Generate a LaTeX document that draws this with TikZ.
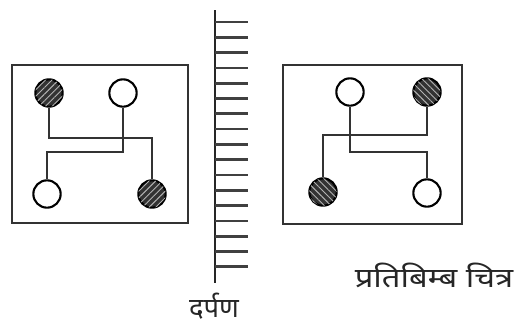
\documentclass[tikz,border=0pt]{standalone}
\usepackage{fontspec}
\newfontfamily\deva[Script=Devanagari]{Noto Sans}
\usetikzlibrary{patterns.meta}
\begin{document}
\begin{tikzpicture}[x=0.75pt,y=-0.75pt,
  board/.style={draw=black!80,line width=2.1pt},
  wire/.style={draw=black!80,line width=1.6pt},
  hole/.style={circle,draw=black,line width=1.6pt,minimum size=20.5pt,inner sep=0pt,fill=white},
  dotne/.style={hole,fill=black!80,postaction={pattern={Lines[angle=45,distance=3.5pt,line width=0.7pt]},pattern color=gray!60}},
  dotnw/.style={hole,fill=black!80,postaction={pattern={Lines[angle=-45,distance=3.5pt,line width=0.7pt]},pattern color=gray!60}},
  lbl/.style={font=\deva\fontsize{20.5}{24}\selectfont,inner sep=0pt,text=black!85}]
\useasboundingbox (0,0) rectangle (520,330);
% left board
\draw[board] (12,65) rectangle (188,223);
\node[dotne] (ltl) at (49,93) {};
\node[hole]  (ltr) at (123,93) {};
\node[hole]  (lbl) at (47,194) {};
\node[dotne] (lbr) at (152,194) {};
\coordinate (lj1) at (49,138);
\coordinate (lj2) at (123,152);
\draw[wire] (ltl) -- (lj1) -| (lbr);
\draw[wire] (ltr) -- (lj2) -| (lbl);
% mirror
\draw[line width=2pt,black!85] (215,10) -- (215,283);
\foreach \i in {0,...,16}{
  \draw[line width=2pt,black!75] (215,{22+15.3*\i}) -- (248,{22+15.3*\i});
}
\node[lbl] (mirror) at (214,306) {दर्पण};
% right board
\draw[board] (283,65) rectangle (462,224);
\node[hole]  (rtl) at (350,92) {};
\node[dotnw] (rtr) at (427,92) {};
\node[dotnw] (rbl) at (323,192) {};
\node[hole]  (rbr) at (427,193) {};
\coordinate (rj1) at (427,135);
\coordinate (rj2) at (350,152);
\draw[wire] (rtr) -- (rj1) -| (rbl);
\draw[wire] (rtl) -- (rj2) -| (rbr);
\node[lbl] (image) at (434,275) {\scalebox{1.2}[1]{प्रतिबिम्ब चित्र}};
\end{tikzpicture}
\end{document}
